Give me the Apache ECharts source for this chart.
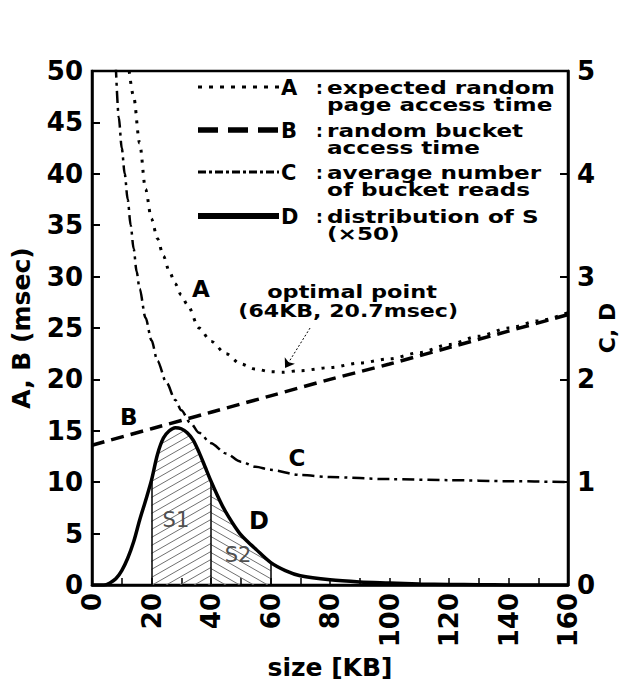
<!DOCTYPE html>
<html>
<head>
<meta charset="utf-8">
<script src="https://cdn.jsdelivr.net/npm/echarts@6/dist/echarts.min.js"></script>
<style>
html, body { margin: 0; padding: 0; background: #fff; }
#chart { width: 625px; height: 696px; }
</style>
</head>
<body>
<div id="chart"></div>
<script>
// A : expected random page access time (msec, left axis)
const sizeA = [12.5, 14, 16, 18, 20, 22, 24, 26, 28, 30, 32, 36, 40, 45, 50, 55, 60, 64, 70, 80, 90, 100, 110, 120, 130, 140, 150, 160]
const valA = [50, 47.5, 43, 38.5, 35.6, 33.7, 32.0, 30.5, 29.3, 28.2, 27.3, 25.0, 23.7, 22.5, 21.5, 21.0, 20.75, 20.7, 20.85, 21.15, 21.6, 22.0, 22.6, 23.4, 24.2, 25.0, 25.7, 26.5]
// B : random bucket access time (msec, left axis)
const sizeB = [0, 20, 40, 60, 80, 100, 120, 140, 160]
const valB = [13.6, 15.2, 16.8, 18.4, 20.0, 21.5, 23.1, 24.7, 26.3]
// C : average number of bucket reads (right axis)
const sizeC = [8, 9, 10, 11, 12, 13, 14, 15, 16, 18, 20, 22, 25, 28, 30, 33, 36, 40, 45, 50, 55, 60, 70, 80, 100, 120, 140, 160]
const valC = [5.05, 4.55, 4.25, 4.0, 3.75, 3.5, 3.27, 3.05, 2.88, 2.6, 2.38, 2.18, 1.97, 1.8, 1.7, 1.58, 1.48, 1.38, 1.28, 1.2, 1.15, 1.12, 1.07, 1.05, 1.03, 1.02, 1.01, 1.0]
// D : distribution of S (x50, right axis)
const sizeD = [0, 4, 6, 8, 10, 12, 14, 16, 18, 20, 22, 24, 26, 28, 30, 32, 34, 36, 38, 40, 42, 44, 46, 48, 50, 52, 55, 60, 65, 70, 80, 90, 100, 110, 120, 130, 140, 160]
const valD = [0, 0, 0.02, 0.06, 0.14, 0.26, 0.42, 0.63, 0.82, 1.02, 1.27, 1.43, 1.50, 1.53, 1.52, 1.48, 1.41, 1.29, 1.15, 1.01, 0.88, 0.76, 0.66, 0.57, 0.49, 0.43, 0.35, 0.22, 0.14, 0.09, 0.05, 0.03, 0.02, 0.01, 0.005, 0.003, 0, 0]
// hatched areas S1, S2 and the vertical lines
const rangeS1 = [20, 40]
const rangeS2 = [40, 60]
const dropLines = [20, 40, 60]
// axis ticks
const xTicks = [0, 20, 40, 60, 80, 100, 120, 140, 160]

const FONT = 'DejaVu Sans'

function zip (xs, ys) {
    return xs.map((x, i) => [x, ys[i]])
}
function part (range) {
    return zip(sizeD, valD).filter(p => p[0] >= range[0] && p[0] <= range[1])
}
function dAt (x) {
    return valD[sizeD.indexOf(x)]
}
function hatch (dir) {
    let w = 14, h = 8
    let c = document.createElement('canvas')
    c.width = w
    c.height = h
    let g = c.getContext('2d')
    g.strokeStyle = '#707070'
    g.lineWidth = 1
    g.beginPath()
    for (let k = -1; k <= 1; k++) {
        if (dir > 0) {
            g.moveTo(-w, 2 * h + k * h)
            g.lineTo(2 * w, -h + k * h)
        } else {
            g.moveTo(-w, -h + k * h)
            g.lineTo(2 * w, 2 * h + k * h)
        }
    }
    g.stroke()
    return c
}

const chart = echarts.init(document.getElementById('chart'), null, { renderer: 'svg' })

const axisFont = { fontFamily: FONT, fontSize: 26, fontWeight: 'bold', color: '#000' }
const blackLine = { color: '#000', width: 2.5 }

let option = {
    animation: false,
    backgroundColor: '#fff',
    grid: {
        left: 92, right: 57, top: 71, bottom: 111,
        containLabel: false, outerBoundsMode: 'none',
        show: true, borderColor: '#000', borderWidth: 2.5
    },
    xAxis: {
        type: 'value', min: 0, max: 160, interval: 10,
        name: 'size [KB]', nameLocation: 'middle', nameGap: 70,
        nameTextStyle: { fontFamily: FONT, fontSize: 25, fontWeight: 'bold', color: '#000' },
        axisLine: { lineStyle: blackLine },
        axisTick: { inside: true, length: 7, lineStyle: { color: '#000', width: 1.5 } },
        axisLabel: Object.assign({
            rotate: 90, margin: 8,
            formatter: v => xTicks.indexOf(v) >= 0 ? String(v) : ''
        }, axisFont),
        splitLine: { show: false }
    },
    yAxis: [{
        type: 'value', min: 0, max: 50, interval: 5, position: 'left',
        name: 'A, B (msec)', nameLocation: 'middle', nameGap: 58, nameRotate: 90,
        nameTextStyle: { fontFamily: FONT, fontSize: 25, fontWeight: 'bold', color: '#000' },
        axisLine: { show: true, lineStyle: blackLine },
        axisTick: { inside: true, length: 8, lineStyle: { color: '#000', width: 2 } },
        axisLabel: Object.assign({ margin: 9 }, axisFont),
        splitLine: { show: false }
    }, {
        type: 'value', min: 0, max: 5, interval: 1, position: 'right',
        name: 'C, D', nameLocation: 'middle', nameGap: 28, nameRotate: 90,
        nameMoveOverlap: false,
        nameTextStyle: { fontFamily: FONT, fontSize: 22, fontWeight: 'bold', color: '#000' },
        axisLine: { show: true, lineStyle: blackLine },
        axisTick: { inside: true, length: 8, lineStyle: { color: '#000', width: 2 } },
        axisLabel: Object.assign({ margin: 9 }, axisFont),
        splitLine: { show: false }
    }],
    series: [{
        name: 'S1', type: 'line', yAxisIndex: 1, data: part(rangeS1),
        smooth: 0.3, showSymbol: false, silent: true, z: 1,
        lineStyle: { width: 0 },
        areaStyle: { color: { image: hatch(1), repeat: 'repeat' }, opacity: 1 }
    }, {
        name: 'S2', type: 'line', yAxisIndex: 1, data: part(rangeS2),
        smooth: 0.3, showSymbol: false, silent: true, z: 1,
        lineStyle: { width: 0 },
        areaStyle: { color: { image: hatch(-1), repeat: 'repeat' }, opacity: 1 }
    }, {
        name: 'A', type: 'line', yAxisIndex: 0, data: zip(sizeA, valA),
        smooth: 0.3, smoothMonotone: 'x', showSymbol: false,
        lineStyle: { color: '#000', width: 3, type: [3, 7] },
        markLine: {
            silent: true, symbol: ['none', 'arrow'], symbolSize: 9,
            label: { show: false },
            lineStyle: { color: '#000', width: 1, type: [2, 2] },
            data: [[{ coord: [73.3, 25.0] }, { coord: [64.9, 21.1] }]]
        }
    }, {
        name: 'B', type: 'line', yAxisIndex: 0, data: zip(sizeB, valB),
        smooth: 0.3, showSymbol: false,
        lineStyle: { color: '#000', width: 3.5, type: [13, 7] }
    }, {
        name: 'C', type: 'line', yAxisIndex: 1, data: zip(sizeC, valC),
        smooth: 0.3, smoothMonotone: 'x', showSymbol: false,
        lineStyle: { color: '#000', width: 2.5, type: [12, 5, 3, 5] }
    }, {
        name: 'D', type: 'line', yAxisIndex: 1, data: zip(sizeD, valD),
        smooth: 0.3, showSymbol: false, z: 3,
        lineStyle: { color: '#000', width: 3.5 },
        markLine: {
            silent: true, symbol: ['none', 'none'],
            label: { show: false },
            lineStyle: { color: '#000', width: 1.5, type: 'solid' },
            data: dropLines.map(x => [{ coord: [x, 0] }, { coord: [x, dAt(x)] }])
        }
    }]
}
chart.setOption(option)

// legend and notes
function text (x, y, s, size, opts) {
    opts = opts || {}
    return {
        type: 'text', x: x, y: y, scaleX: opts.sx || 1, z: 10,
        style: {
            text: s,
            fontFamily: FONT,
            fontSize: size,
            fontWeight: opts.weight || 'bold',
            fill: opts.color || '#000',
            align: opts.align || 'left',
            verticalAlign: 'middle'
        }
    }
}
function sample (y, width, dash) {
    return {
        type: 'line', z: 10,
        shape: { x1: 198, y1: y, x2: 279, y2: y },
        style: { stroke: '#000', lineWidth: width, lineDash: dash }
    }
}
function at (x, y) {
    return chart.convertToPixel({ gridIndex: 0 }, [x, y])
}

let legendRows = [
    { key: 'A', y: 87, width: 3, dash: [4, 7], lines: ['expected random', 'page access time'] },
    { key: 'B', y: 130, width: 5.5, dash: [20, 10], lines: ['random bucket', 'access time'] },
    { key: 'C', y: 172, width: 3, dash: [8, 3, 3, 3], lines: ['average number', 'of bucket reads'] },
    { key: 'D', y: 216, width: 6, dash: null, lines: ['distribution of S', '(×50)'] }
]
let graphics = []
legendRows.forEach(r => {
    graphics.push(sample(r.y, r.width, r.dash))
    graphics.push(text(281, r.y + 1, r.key, 21))
    graphics.push(text(316, r.y + 1, ':', 17))
    graphics.push(text(327, r.y + 1, r.lines[0], 17, { sx: 1.36 }))
    graphics.push(text(327, r.y + 18, r.lines[1], 17, { sx: 1.36 }))
})

let notes = [
    { s: 'A', p: at(36.6, 28.8), size: 23 },
    { s: 'B', p: at(12.4, 16.3), size: 23 },
    { s: 'C', p: at(68.9, 12.4), size: 23 },
    { s: 'D', p: at(56.1, 6.2), size: 24 },
    { s: 'S1', p: at(28.2, 6.3), size: 21, weight: 'normal', color: '#505050' },
    { s: 'S2', p: at(49.1, 2.9), size: 21, weight: 'normal', color: '#505050' },
    { s: 'optimal point', p: at(87.4, 28.5), size: 17, sx: 1.32 },
    { s: '(64KB, 20.7msec)', p: at(86.1, 26.6), size: 17, sx: 1.3 }
]
notes.forEach(n => {
    graphics.push(text(n.p[0], n.p[1], n.s, n.size, {
        align: 'center', sx: n.sx, weight: n.weight, color: n.color
    }))
})
chart.setOption({ graphic: graphics })
</script>
</body>
</html>
